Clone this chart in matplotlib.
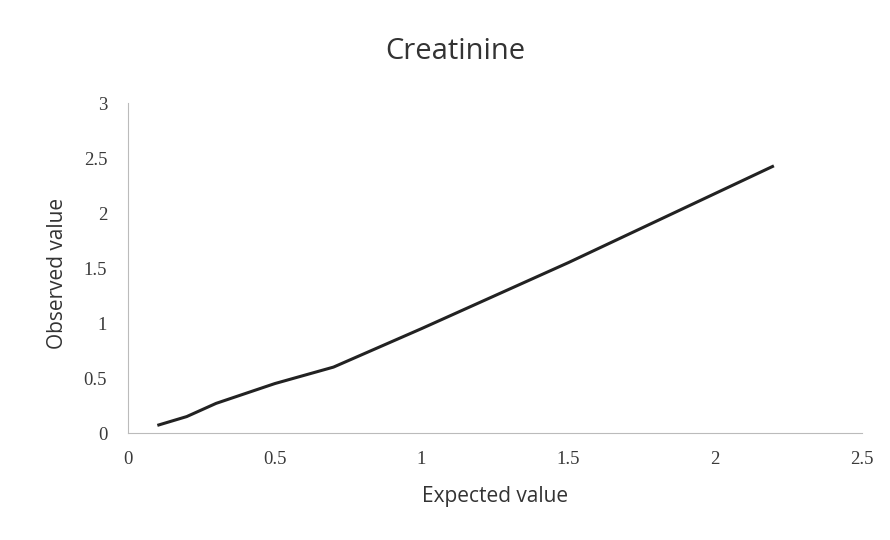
import matplotlib.pyplot as plt

# Expected vs observed creatinine values
expected = [0.1, 0.2, 0.3, 0.5, 0.7, 1.0, 1.5, 2.2]
observed = [0.07, 0.15, 0.27, 0.45, 0.6, 0.95, 1.55, 2.43]

x_ticks = [0, 0.5, 1, 1.5, 2, 2.5]
x_tick_labels = ["0", "0.5", "1", "1.5", "2", "2.5"]
y_ticks = [0, 0.5, 1, 1.5, 2, 2.5, 3]
y_tick_labels = ["0", "0.5", "1", "1.5", "2", "2.5", "3"]

fig = plt.figure(figsize=(8.9, 5.4), dpi=100)
ax = fig.add_axes([0.1438, 0.198, 0.8247, 0.611])

ax.plot(expected, observed, color="#222222", linewidth=2.2, solid_capstyle="butt")

ax.set_xlim(0, 2.5)
ax.set_ylim(0, 3)
ax.set_xticks(x_ticks)
ax.set_xticklabels(x_tick_labels, family="Liberation Serif", fontsize=13.5, color="#3a3a3a")
ax.set_yticks(y_ticks)
ax.set_yticklabels(y_tick_labels, family="Liberation Serif", fontsize=13.5, color="#3a3a3a")
ax.tick_params(axis="x", length=0, pad=13)
ax.tick_params(axis="y", length=0, pad=15)

for side in ["top", "right"]:
    ax.spines[side].set_visible(False)
for side in ["left", "bottom"]:
    ax.spines[side].set_color("#bbbbbb")
    ax.spines[side].set_linewidth(0.8)

ax.set_xlabel("Expected value", family="Open Sans", fontsize=15, color="#333333")
ax.set_ylabel("Observed value", family="Open Sans", fontsize=15, color="#333333")
ax.xaxis.set_label_coords(0.5, -0.191)
ax.yaxis.set_label_coords(-0.0954, 0.485)
ax.xaxis.label.set_va("center")
ax.yaxis.label.set_va("center")
fig.text(0.512, 0.904, "Creatinine", ha="center", va="center",
         family="Open Sans", fontsize=21, color="#333333")

fig.savefig("out.png", dpi=100, facecolor="white")
